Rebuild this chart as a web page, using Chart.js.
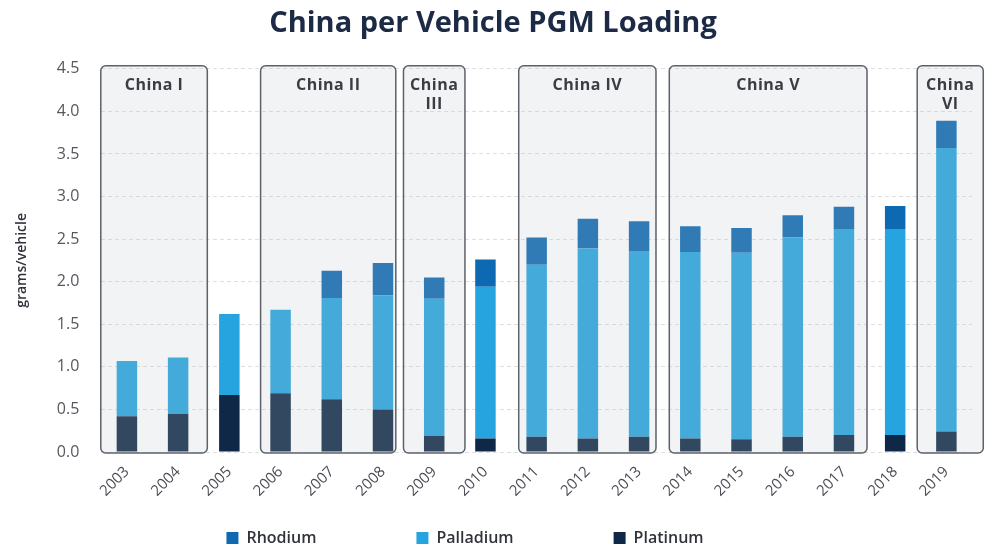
<!DOCTYPE html>
<html>
<head>
<meta charset="utf-8">
<script src="https://cdn.jsdelivr.net/npm/chart.js@4/dist/chart.umd.min.js"></script>
<style>
  html, body { margin: 0; padding: 0; background: #ffffff; }
  #wrap { width: 986px; height: 548px; }
</style>
</head>
<body>
<div id="wrap"><canvas id="c"></canvas></div>
<script>
// Model years on the category axis
const years = ['2003','2004','2005','2006','2007','2008','2009','2010','2011',
               '2012','2013','2014','2015','2016','2017','2018','2019'];

// Average PGM loading, grams per vehicle
const platinum  = [0.42, 0.45, 0.67, 0.69, 0.62, 0.50, 0.19, 0.16, 0.18, 0.16, 0.18, 0.16, 0.15, 0.18, 0.20, 0.20, 0.24];
const palladium = [0.65, 0.66, 0.95, 0.98, 1.19, 1.34, 1.61, 1.78, 2.02, 2.23, 2.18, 2.19, 2.19, 2.34, 2.42, 2.42, 3.33];
const rhodium   = [0.00, 0.00, 0.00, 0.00, 0.32, 0.38, 0.25, 0.32, 0.32, 0.35, 0.35, 0.30, 0.29, 0.26, 0.26, 0.27, 0.32];

// Emission standard stages and the years each one covers
const stageNames = [['China I'], ['China II'], ['China', 'III'], ['China IV'], ['China V'], ['China', 'VI']];
const stageFirst = ['2003', '2006', '2009', '2011', '2014', '2019'];
const stageLast  = ['2004', '2008', '2009', '2013', '2017', '2019'];

const yTicks = [0, 0.5, 1.0, 1.5, 2.0, 2.5, 3.0, 3.5, 4.0, 4.5];

const FONT = '"Open Sans", "Noto Sans", sans-serif';

// Shaded, outlined panels for each emission stage, drawn over the bars
const stagePanels = {
  id: 'stagePanels',
  afterDatasetsDraw(chart, args, opts) {
    const { ctx, scales: { x, y } } = chart;
    const w = x.getPixelForValue(1) - x.getPixelForValue(0);
    const top = y.getPixelForValue(4.5) - 3;
    const bottom = y.getPixelForValue(0) + 1;
    ctx.save();
    stageNames.forEach((lines, i) => {
      const a = years.indexOf(stageFirst[i]);
      const b = years.indexOf(stageLast[i]);
      const ins = opts.insets[i];
      const left = x.getPixelForValue(a) - ins[0] * w;
      const right = x.getPixelForValue(b) + ins[1] * w;
      ctx.beginPath();
      ctx.roundRect(left, top, right - left, bottom - top, 5);
      ctx.fillStyle = 'rgba(190,193,200,0.2)';
      ctx.fill();
      ctx.lineWidth = 1.5;
      ctx.strokeStyle = '#5d6169';
      ctx.stroke();
      ctx.fillStyle = '#3a3d44';
      ctx.font = '700 16px ' + FONT;
      if ('letterSpacing' in ctx) ctx.letterSpacing = '0.5px';
      ctx.textAlign = 'center';
      ctx.textBaseline = 'middle';
      const cx = (left + right) / 2;
      lines.forEach((t, k) => ctx.fillText(t, cx, top + 20 + k * 19));
    });
    ctx.restore();
  }
};

// Keeps the wide spacing between legend items while using a compact legend row
const compactLegend = {
  id: 'compactLegend',
  afterInit(chart, args, opts) {
    const lg = chart.legend;
    if (!lg) return;
    const fit0 = lg.fit.bind(lg);
    lg.fit = function () { fit0(); this.height = opts.height; };
    const draw0 = lg.draw.bind(lg);
    lg.draw = function () {
      const shift = this.options.labels.padding - opts.itemTop;
      const t = this.top, l = this.left, r = this.right;
      this.top = t - shift; this.left = l + opts.dx; this.right = r + opts.dx;
      draw0();
      this.top = t; this.left = l; this.right = r;
    };
  }
};

new Chart(document.getElementById('c'), {
  type: 'bar',
  data: {
    labels: years,
    datasets: [
      { label: 'Platinum',  data: platinum,  backgroundColor: '#0f2847' },
      { label: 'Palladium', data: palladium, backgroundColor: '#26a4df' },
      { label: 'Rhodium',   data: rhodium,   backgroundColor: '#0d6ab2' }
    ]
  },
  options: {
    responsive: true,
    maintainAspectRatio: false,
    animation: false,
    layout: { padding: { left: 14, right: 14, top: 6, bottom: 4 } },
    datasets: { bar: { barPercentage: 0.4, categoryPercentage: 1.0 } },
    scales: {
      x: {
        stacked: true,
        grid: { display: false },
        border: { display: false },
        ticks: {
          maxRotation: 45, minRotation: 45,
          color: '#4a4d55',
          font: { family: FONT, size: 15 }
        }
      },
      y: {
        stacked: true,
        min: 0, max: 4.5,
        afterBuildTicks(scale) { scale.ticks = yTicks.map(v => ({ value: v })); },
        grid: { color: '#dedfe3', drawTicks: false },
        border: { display: false, dash: [4, 3] },
        ticks: {
          padding: 22,
          color: '#55585f',
          font: { family: FONT, size: 16 },
          callback: v => Number(v).toFixed(1)
        },
        title: {
          display: true,
          text: 'grams/vehicle',
          color: '#2f323a',
          font: { family: FONT, size: 14, weight: '600' },
          padding: { top: 0, bottom: 4 }
        }
      }
    },
    plugins: {
      title: {
        display: true,
        text: 'China per Vehicle PGM Loading',
        color: '#1c2a45',
        font: { family: FONT, size: 29, weight: '700' },
        padding: { top: 0, bottom: 28 }
      },
      legend: {
        position: 'bottom',
        labels: {
          sort: (a, b) => b.datasetIndex - a.datasetIndex,
          boxWidth: 12, boxHeight: 12,
          padding: 100,
          color: '#30333a',
          font: { family: FONT, size: 16, weight: '600' }
        }
      },
      compactLegend: { height: 41, itemTop: 27, dx: -28 },
      tooltip: { enabled: false },
      stagePanels: {
        insets: [[0.51, 0.57], [0.39, 0.25], [0.6, 0.6], [0.35, 0.33], [0.41, 0.45], [0.57, 0.72]]
      }
    }
  },
  plugins: [stagePanels, compactLegend]
});
</script>
</body>
</html>
